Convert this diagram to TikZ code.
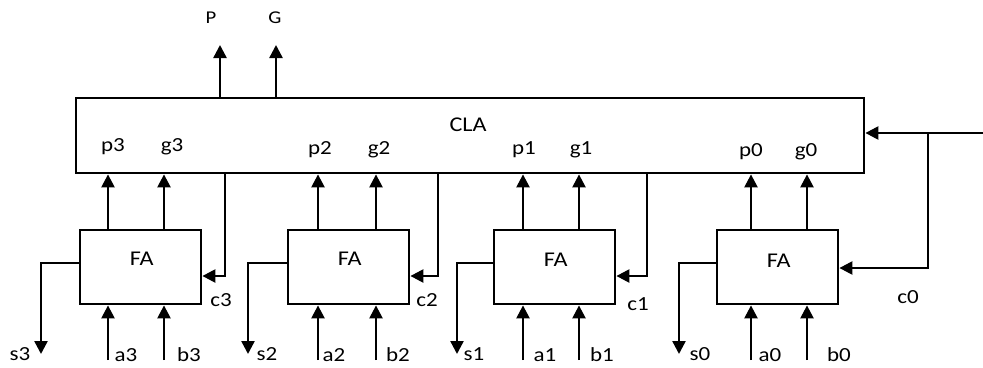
\documentclass[tikz,border=0pt]{standalone}
\usepackage{fontspec}
\setmainfont{Carlito}[FakeStretch=1.15]
\usetikzlibrary{arrows.meta,calc}
\begin{document}
\begin{tikzpicture}[x=1pt,y=-1pt,line width=2.4pt,
  arr/.style={-{Triangle[length=13pt,width=13pt]}},
  fabox/.style={draw,rectangle,inner sep=0pt,minimum width=121pt,minimum height=74pt,anchor=north west},
  big/.style={font=\fontsize{21}{21}\selectfont,inner sep=0pt},
  lbl/.style={font=\fontsize{20}{20}\selectfont,inner sep=0pt},
  toplbl/.style={font=\fontsize{18}{18}\selectfont,inner sep=0pt}]
\fill[white] (0,0) rectangle (983,367);
\useasboundingbox (0,0) rectangle (983,367);
% CLA block
\node[draw,rectangle,anchor=north west,minimum width=788pt,minimum height=75pt,inner sep=0pt] (cla) at (75,97) {};
\node[big] (clalbl) at (468,125) {CLA};
% P and G outputs
\node[toplbl] (P) at (211,18) {P};
\node[toplbl] (G) at (275,18) {G};
\coordinate (Pt) at (220,45);
\coordinate (Gt) at (276,45);
\draw[arr] (Pt |- cla.north) -- (Pt);
\draw[arr] (Gt |- cla.north) -- (Gt);
% full adders
\foreach \i/\fx/\px/\gx/\sx/\ply/\plx/\glx/\slx/\alx/\blx/\fly in
  {3/79/108/164/41/147/113/172/20/126/189/259,
   2/287/318/376/248/150/320/379/267/334/398/259,
   1/493/523/579/457/150/524/581/474/545/602/260,
   0/716/751/807/679/152/751/806/700/770/839/261}{
  \node[fabox] (fa\i) at (\fx,229) {};
  \node[big] (falbl\i) at ($(fa\i.north)+(1,\fly-229)$) {FA};
  \coordinate (pc\i) at (\px,0);
  \coordinate (gc\i) at (\gx,0);
  \draw[arr] (pc\i |- fa\i.north) -- (pc\i |- cla.south);
  \draw[arr] (gc\i |- fa\i.north) -- (gc\i |- cla.south);
  \node[lbl] (pl\i) at (\plx,\ply) {p\i};
  \node[lbl] (gl\i) at (\glx,\ply) {g\i};
  \coordinate (ain\i) at (\px,360);
  \coordinate (bin\i) at (\gx,360);
  \draw[arr] (ain\i) -- (ain\i |- fa\i.south);
  \draw[arr] (bin\i) -- (bin\i |- fa\i.south);
  \node[lbl] (al\i) at (\alx,355) {a\i};
  \node[lbl] (bl\i) at (\blx,355) {b\i};
  \coordinate (sy\i) at (\sx,263);
  \coordinate (so\i) at (\sx,354);
  \draw[arr] (sy\i -| fa\i.west) -- (sy\i) -- (so\i);
  \node[lbl] (sl\i) at (\slx,354) {s\i};
}
% carries
\foreach \i/\cx/\clx/\cly in {3/225/221/300, 2/438/427/300, 1/647/638/304}{
  \coordinate (ct\i) at (\cx,276);
  \draw[arr] (ct\i |- cla.south) -- (ct\i) -- (ct\i -| fa\i.east);
  \node[lbl] (cl\i) at (\clx,\cly) {c\i};
}
% c0 input
\coordinate (cin) at (983,133);
\coordinate (br) at (928,133);
\coordinate (brd) at (928,268);
\draw[arr] (cin) -- (cin -| cla.east);
\draw[arr] (br) -- (brd) -- (brd -| fa0.east);
\node[lbl] (cl0) at (908,297) {c0};
\end{tikzpicture}
\end{document}
